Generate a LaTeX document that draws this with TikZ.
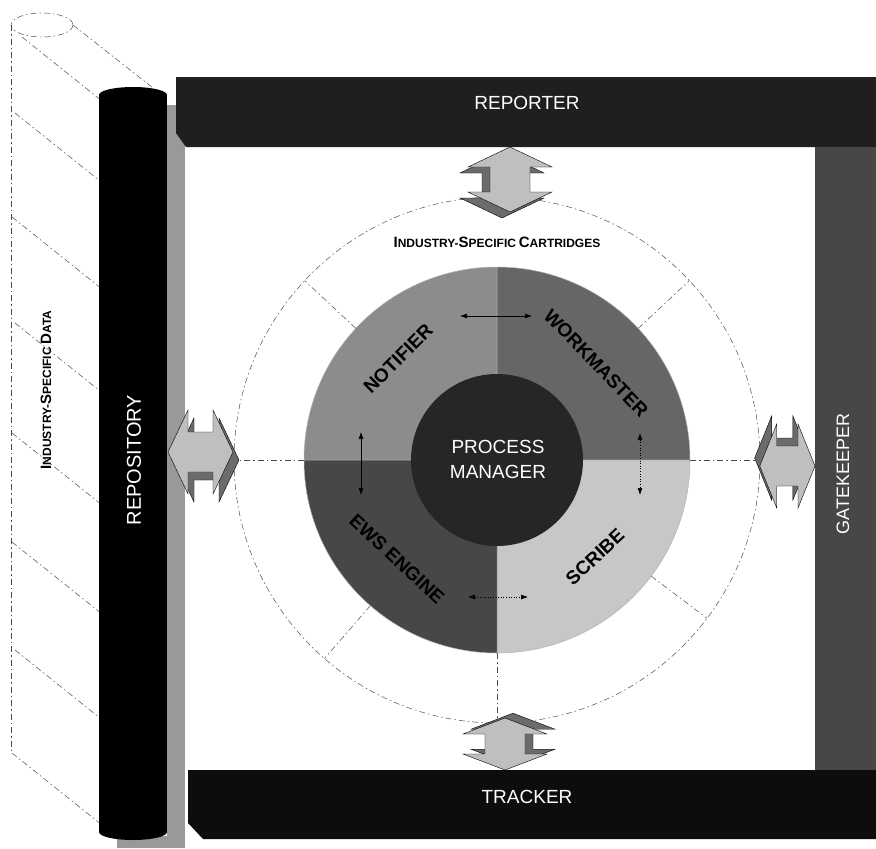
\documentclass[tikz,border=0pt]{standalone}
\usepackage{fontspec}
\setmainfont{Liberation Sans}
\usetikzlibrary{arrows.meta,calc}
\newcommand{\capA}[1]{{\fontsize{15}{15}\selectfont #1}}
\newcommand{\capB}[1]{{\fontsize{12}{12}\selectfont #1}}
\tikzset{
  blockarrow/.pic={
    \filldraw[fill=black!58, draw=black, line width=0.4pt, shift={(6,8)}]
      (0,0) -- (20,-42) -- (20,-20) -- (45,-20) -- (45,-42) -- (65,0) -- (45,42) -- (45,20) -- (20,20) -- (20,42) -- cycle;
    \filldraw[fill=black!25, draw=black, line width=0.4pt]
      (0,0) -- (20,-42) -- (20,-20) -- (45,-20) -- (45,-42) -- (65,0) -- (45,42) -- (45,20) -- (20,20) -- (20,42) -- cycle;
  }
}
\begin{document}
\begin{tikzpicture}[x=1pt,y=-1pt,
  dd/.style={black!70, line width=0.5pt, dash pattern=on 6pt off 3pt on 1.5pt off 3pt},
  dsh/.style={black!70, line width=0.5pt, dash pattern=on 7pt off 4pt},
  lbl/.style={text=white, font=\fontsize{19}{19}\selectfont, inner sep=0pt},
  qlbl/.style={font=\bfseries\fontsize{19}{19}\selectfont, inner sep=0pt},
  darr/.style={{Latex[length=7pt,width=5pt]}-{Latex[length=7pt,width=5pt]}, line width=0.6pt}
]
\useasboundingbox (0,0) rectangle (876,849);
\fill[white] (0,0) rectangle (876,849);

% transparent back cylinder (industry-specific data)
\draw[dd] (42,25) ellipse [x radius=31, y radius=12];
\draw[dd] (11,25) -- (11,753);
\draw[dd] (73,25) -- (153,88);
\foreach \sx/\sy in {22/37, 15/113, 12/217, 15/323, 12/433, 12/542, 15/650, 12/753}
  \draw[dd] (\sx,\sy) -- ++({99-\sx},{0.8*(99-\sx)});
\node[font=\bfseries, rotate=90, inner sep=0pt] (isdata) at (46,390)
  {\capA{I}\capB{NDUSTRY-}\capA{S}\capB{PECIFIC} \capA{D}\capB{ATA}};

% repository cylinder with shadow
\fill[black!40] (167,105) rectangle (185,848);
\fill[black!40] (117,836) rectangle (185,848);
\fill[black] (99,95) rectangle (167,832);
\fill[black] (133,95) ellipse [x radius=34, y radius=8];
\fill[black] (133,832) ellipse [x radius=34, y radius=8];
\node[lbl, rotate=90, font=\fontsize{20}{20}\selectfont] (repo) at (134,460) {REPOSITORY};

% bars
\fill[black!88] (176,77) -- (876,77) -- (876,147) -- (186,147) -- (176,133) -- cycle;
\node[lbl] (reporter) at (527,103) {REPORTER};
\fill[black!72] (815,147) rectangle (876,770);
\node[lbl, rotate=90, font=\fontsize{18}{18}\selectfont] (gate) at (843,474) {GATEKEEPER};
\fill[black!95] (188,770) -- (876,770) -- (876,839) -- (203,839) -- (188,823) -- cycle;
\node[lbl] (tracker) at (527,797) {TRACKER};

% outer ring of cartridges
\coordinate (c) at (497,460);
\draw[dd] (c) circle [radius=263];
\node[font=\bfseries, inner sep=0pt] (cart) at (497,242)
  {\capA{I}\capB{NDUSTRY-}\capA{S}\capB{PECIFIC} \capA{C}\capB{ARTRIDGES}};

% quadrants
\filldraw[fill=black!45, draw=black!30, line width=0.5pt] (c) -- ++(180:193) arc[start angle=180, end angle=270, radius=193] -- cycle;
\filldraw[fill=black!60, draw=black!30, line width=0.5pt] (c) -- ++(270:193) arc[start angle=270, end angle=360, radius=193] -- cycle;
\filldraw[fill=black!22, draw=black!30, line width=0.5pt] (c) -- ++(0:193) arc[start angle=0, end angle=90, radius=193] -- cycle;
\filldraw[fill=black!72, draw=black!30, line width=0.5pt] (c) -- ++(90:193) arc[start angle=90, end angle=180, radius=193] -- cycle;

% dividers of the outer ring
\foreach \a in {0,-43,-137,180,-229,-270,-323}
  \draw[dd] ($(c)+(\a:193)$) -- ($(c)+(\a:263)$);

% process manager
\fill[black!85] (c) circle [radius=86];
\node[text=white, font=\fontsize{19}{25}\selectfont, align=center, inner sep=0pt] (pm) at (498,459) {PROCESS\\MANAGER};

% module labels
\node[qlbl, rotate=45] (notifier) at (398,359) {NOTIFIER};
\node[qlbl, rotate=-46] (workmaster) at (596,363) {WORKMASTER};
\node[qlbl, rotate=-43] (ews) at (397,559) {EWS ENGINE};
\node[qlbl, rotate=43] (scribe) at (595,557) {SCRIBE};

% double arrows between modules
\coordinate (t1) at (460,316); \coordinate (t2) at (532,316);
\coordinate (l1) at (361,432); \coordinate (l2) at (361,495);
\coordinate (r1) at (640,433); \coordinate (r2) at (640,495);
\coordinate (b1) at (468,597); \coordinate (b2) at (528,597);
\draw[darr] (t1) -- (t2);
\draw[darr] (l1) -- (l2);
\draw[darr, dotted] (r1) -- (r2);
\draw[darr, dotted] (b1) -- (b2);

% block arrows between bars and ring
\pic[rotate=-90] (atop) at (510,147) {blockarrow};
\pic (aleft) at (168,452) {blockarrow};
\pic[rotate=180, xscale=0.85] (aright) at (815,466) {blockarrow};
\pic[rotate=90, xscale=0.8] (abot) at (505,770) {blockarrow};
\end{tikzpicture}
\end{document}
